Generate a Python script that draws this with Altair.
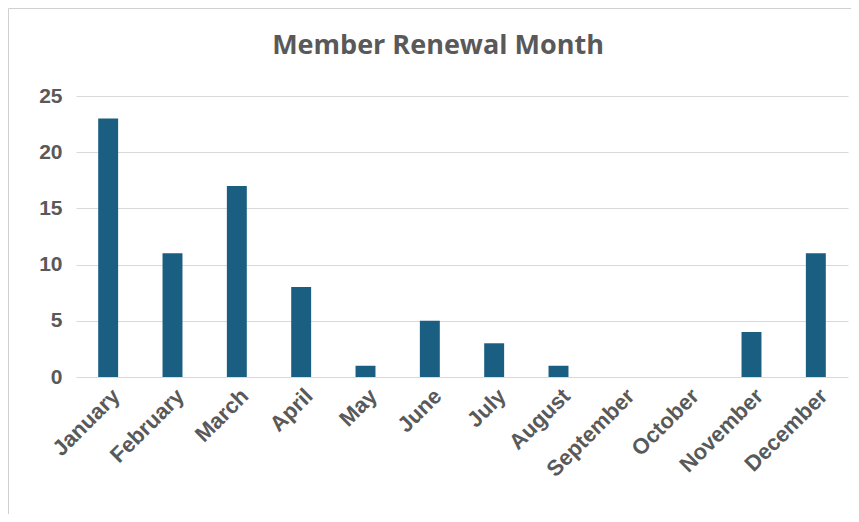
import altair as alt
import pandas as pd

months = ["January", "February", "March", "April", "May", "June", "July",
          "August", "September", "October", "November", "December"]
counts = [23, 11, 17, 8, 1, 5, 3, 1, 0, 0, 4, 11]
y_ticks = [0, 5, 10, 15, 20, 25]
title_text = "Member Renewal Month"

df = pd.DataFrame({"month": months, "count": counts})

GRAY = "#595959"

bars = alt.Chart(df).mark_bar(color="#1a5e82").encode(
    x=alt.X("month:N", sort=months,
            scale=alt.Scale(paddingInner=0.69, paddingOuter=0.345),
            axis=alt.Axis(title=None, labelAngle=-45, labelAlign="right",
                          labelBaseline="top", labelFont="Liberation Sans",
                          labelFontWeight="bold", labelFontSize=22,
                          labelColor=GRAY, ticks=False, domain=False,
                          labelPadding=8, labelOffset=1)),
    y=alt.Y("count:Q", scale=alt.Scale(domain=[0, 25], nice=False),
            axis=alt.Axis(title=None, values=y_ticks, labelFont="Liberation Sans",
                          labelFontWeight="bold", labelFontSize=21,
                          labelColor=GRAY, ticks=False, domain=False,
                          labelPadding=14, gridColor="#d9d9d9", gridWidth=1.2)),
)

title = alt.Chart(alt.Data(values=[{"t": title_text}])).mark_text(
    font="Open Sans", fontWeight=700, fontSize=27, color=GRAY,
    align="center", baseline="middle"
).encode(text="t:N", x=alt.value(362), y=alt.value(-50))

frame = alt.Chart(alt.Data(values=[{}])).mark_rect(
    fill=None, stroke="#d0d0d0", strokeWidth=1
).encode(
    x=alt.value(-67.5), x2=alt.value(900), y=alt.value(-87.5), y2=alt.value(460)
)

chart = alt.layer(bars, title, frame).properties(
    width=772, height=281,
    autosize=alt.AutoSizeParams(type="none"),
    padding={"left": 68, "top": 88, "right": 3, "bottom": 137},
).configure_view(stroke=None)

chart.save("out.html", embed_options={"renderer": "svg", "actions": False})
